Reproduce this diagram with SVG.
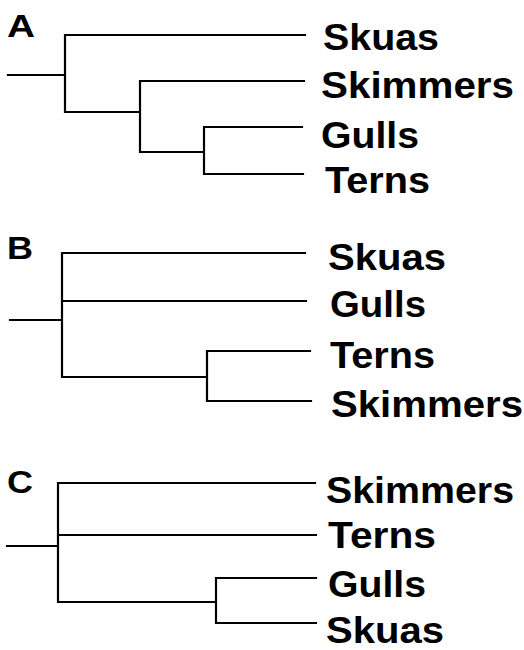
<svg xmlns="http://www.w3.org/2000/svg" width="524" height="650" viewBox="0 0 524 650">
<style>
.br{fill:none;stroke:#000;stroke-width:2.2;stroke-linecap:square;stroke-linejoin:miter}
.lb{font-family:"Liberation Sans",Arial,sans-serif;font-weight:bold;font-size:37px;fill:#000}
.pn{font-family:"Liberation Sans",Arial,sans-serif;font-weight:bold;font-size:32px;fill:#000}
</style>
<rect width="524" height="650" fill="#fff"/>
<g id="connectors">
<g id="treeA-edges">
<path class="br" d="M8,75 H65 M65,35 V112 M65,35 H305 M65,112 H140 M140,81 V152 M140,81 H304 M140,152 H204 M204,127 V174 M204,127 H302 M204,174 H303"/>
</g>
<g id="treeB-edges">
<path class="br" d="M10,320 H62 M62,253 V377 M62,253 H305 M62,301 H306 M62,377 H207 M207,351 V401 M207,351 H310 M207,401 H311"/>
</g>
<g id="treeC-edges">
<path class="br" d="M7,546 H58 M58,483 V602 M58,483 H315 M58,535 H316 M58,602 H216 M216,578 V623 M216,578 H316 M216,623 H316"/>
</g>
</g>
<g id="panelA">
<text class="pn" x="7" y="37" textLength="28" lengthAdjust="spacingAndGlyphs">A</text>
<g id="A-skuas"><text class="lb" x="323" y="50" textLength="116" lengthAdjust="spacingAndGlyphs">Skuas</text></g>
<g id="A-skimmers"><text class="lb" x="321" y="98" textLength="193" lengthAdjust="spacingAndGlyphs">Skimmers</text></g>
<g id="A-gulls"><text class="lb" x="321" y="148" textLength="98" lengthAdjust="spacingAndGlyphs">Gulls</text></g>
<g id="A-terns"><text class="lb" x="325" y="193" textLength="105" lengthAdjust="spacingAndGlyphs">Terns</text></g>
</g>
<g id="panelB">
<text class="pn" x="7" y="259" textLength="26" lengthAdjust="spacingAndGlyphs">B</text>
<g id="B-skuas"><text class="lb" x="328" y="270" textLength="118" lengthAdjust="spacingAndGlyphs">Skuas</text></g>
<g id="B-gulls"><text class="lb" x="330" y="317" textLength="96" lengthAdjust="spacingAndGlyphs">Gulls</text></g>
<g id="B-terns"><text class="lb" x="330" y="368" textLength="105" lengthAdjust="spacingAndGlyphs">Terns</text></g>
<g id="B-skimmers"><text class="lb" x="331" y="417" textLength="192" lengthAdjust="spacingAndGlyphs">Skimmers</text></g>
</g>
<g id="panelC">
<text class="pn" x="7" y="493" textLength="26" lengthAdjust="spacingAndGlyphs">C</text>
<g id="C-skimmers"><text class="lb" x="326" y="503" textLength="188" lengthAdjust="spacingAndGlyphs">Skimmers</text></g>
<g id="C-terns"><text class="lb" x="328" y="548" textLength="108" lengthAdjust="spacingAndGlyphs">Terns</text></g>
<g id="C-gulls"><text class="lb" x="328" y="597" textLength="98" lengthAdjust="spacingAndGlyphs">Gulls</text></g>
<g id="C-skuas"><text class="lb" x="326" y="643" textLength="118" lengthAdjust="spacingAndGlyphs">Skuas</text></g>
</g>
</svg>
